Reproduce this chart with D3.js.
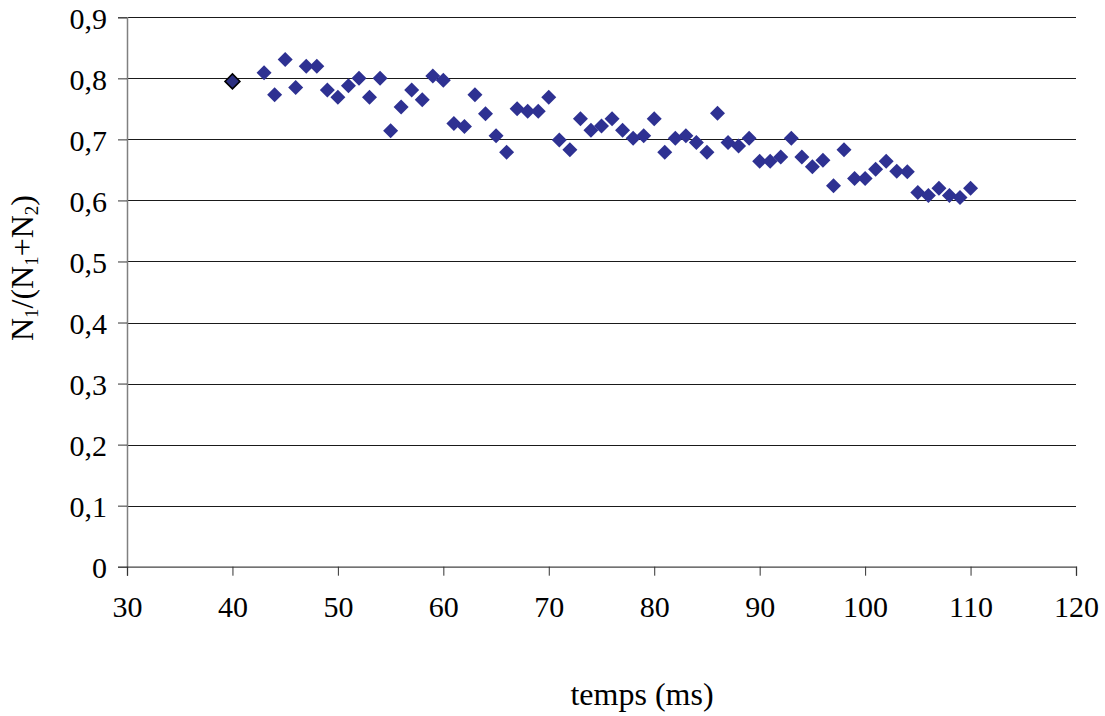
<!DOCTYPE html>
<html>
<head>
<meta charset="utf-8">
<script src="https://cdn.jsdelivr.net/npm/d3@7/dist/d3.min.js"></script>
<style>
  html, body { margin: 0; padding: 0; background: #fff; }
  svg { display: block; }
</style>
</head>
<body>
<svg id="chart" width="1105" height="716"></svg>
<script>
// ---- data ----
const timesMs = [40, 43, 44, 45, 46, 47, 48, 49, 50, 51, 52, 53, 54, 55, 56, 57, 58, 59, 60,
  61, 62, 63, 64, 65, 66, 67, 68, 69, 70, 71, 72, 73, 74, 75, 76, 77, 78, 79, 80,
  81, 82, 83, 84, 85, 86, 87, 88, 89, 90, 91, 92, 93, 94, 95, 96, 97, 98, 99, 100,
  101, 102, 103, 104, 105, 106, 107, 108, 109, 110];
const ratio = [0.795, 0.809, 0.773, 0.831, 0.785, 0.820, 0.820, 0.781, 0.769, 0.788, 0.800, 0.769, 0.800, 0.714, 0.753, 0.781, 0.765, 0.804, 0.797,
  0.726, 0.721, 0.773, 0.742, 0.706, 0.679, 0.750, 0.746, 0.746, 0.769, 0.699, 0.683, 0.734, 0.715, 0.722, 0.734, 0.715, 0.702, 0.706, 0.734,
  0.679, 0.702, 0.706, 0.695, 0.679, 0.743, 0.695, 0.689, 0.702, 0.664, 0.664, 0.671, 0.702, 0.671, 0.655, 0.666, 0.624, 0.683, 0.636, 0.636,
  0.651, 0.664, 0.648, 0.647, 0.613, 0.608, 0.620, 0.608, 0.605, 0.620];
const xTicks = [30, 40, 50, 60, 70, 80, 90, 100, 110, 120];
const yTicks = [0, 0.1, 0.2, 0.3, 0.4, 0.5, 0.6, 0.7, 0.8, 0.9];
const yTickLabels = ["0", "0,1", "0,2", "0,3", "0,4", "0,5", "0,6", "0,7", "0,8", "0,9"];
const xTitle = "temps (ms)";

// ---- layout ----
const FONT = '"Liberation Serif", "Times New Roman", Times, serif';
const svg = d3.select("#chart");
const plotLeft = 127, plotRight = 1076, plotTop = 17.3, plotBottom = 566.7;
const x = d3.scaleLinear().domain([30, 120]).range([plotLeft, plotRight]);
const y = d3.scaleLinear().domain([0, 0.9]).range([plotBottom, plotTop]);

// gridlines
svg.append("g").selectAll("line").data(yTicks.filter(d => d > 0)).join("line")
  .attr("x1", plotLeft).attr("x2", plotRight)
  .attr("y1", d => Math.round(y(d)) + 0.5).attr("y2", d => Math.round(y(d)) + 0.5)
  .attr("stroke", "#1a1a1a").attr("stroke-width", 1);

// y axis
const yAxis = svg.append("g").attr("transform", `translate(${plotLeft},0)`)
  .call(d3.axisLeft(y).tickValues(yTicks).tickSize(9).tickPadding(11)
    .tickFormat((d, i) => yTickLabels[i]));
yAxis.select(".domain").attr("stroke", "#808080").attr("stroke-width", 1.5);
yAxis.selectAll(".tick line").attr("stroke", "#333");
yAxis.selectAll(".tick text").style("font-family", FONT)
  .style("font-size", "30px").attr("fill", "#000").attr("dy", "0.36em");

// x axis
const xAxis = svg.append("g").attr("transform", `translate(0,${plotBottom})`)
  .call(d3.axisBottom(x).tickValues(xTicks).tickSize(9).tickPadding(20).tickFormat(d3.format("d")));
xAxis.select(".domain").attr("stroke", "#444").attr("stroke-width", 1.3);
xAxis.selectAll(".tick line").attr("stroke", "#333");
xAxis.selectAll(".tick text").style("font-family", FONT)
  .style("font-size", "30px").attr("fill", "#000");

// points
const diamond = "M0,-7.5L7.5,0L0,7.5L-7.5,0Z";
svg.append("g").selectAll("path").data(timesMs.map((t, i) => [t, ratio[i], i])).join("path")
  .attr("d", diamond)
  .attr("transform", d => `translate(${x(d[0])},${y(d[1])})`)
  .attr("fill", d => d[2] === 0 ? "#2B2F80" : "#2E3192")
  .attr("stroke", d => d[2] === 0 ? "#000" : "none")
  .attr("stroke-width", 1.5);

// x title
svg.append("text").attr("x", 642).attr("y", 705).attr("text-anchor", "middle")
  .style("font-family", FONT).style("font-size", "32px").attr("fill", "#000").text(xTitle);

// y title with subscripts
const yt = svg.append("text")
  .attr("transform", "translate(33,268) rotate(-90)")
  .attr("text-anchor", "middle").style("font-family", FONT).style("font-size", "32px").attr("fill", "#000");
yt.append("tspan").text("N");
yt.append("tspan").style("font-size", "19px").attr("dy", 5).text("1");
yt.append("tspan").attr("dy", -5).text("/(N");
yt.append("tspan").style("font-size", "19px").attr("dy", 5).text("1");
yt.append("tspan").attr("dy", -5).text("+N");
yt.append("tspan").style("font-size", "19px").attr("dy", 5).text("2");
yt.append("tspan").attr("dy", -5).text(")");
</script>
</body>
</html>
